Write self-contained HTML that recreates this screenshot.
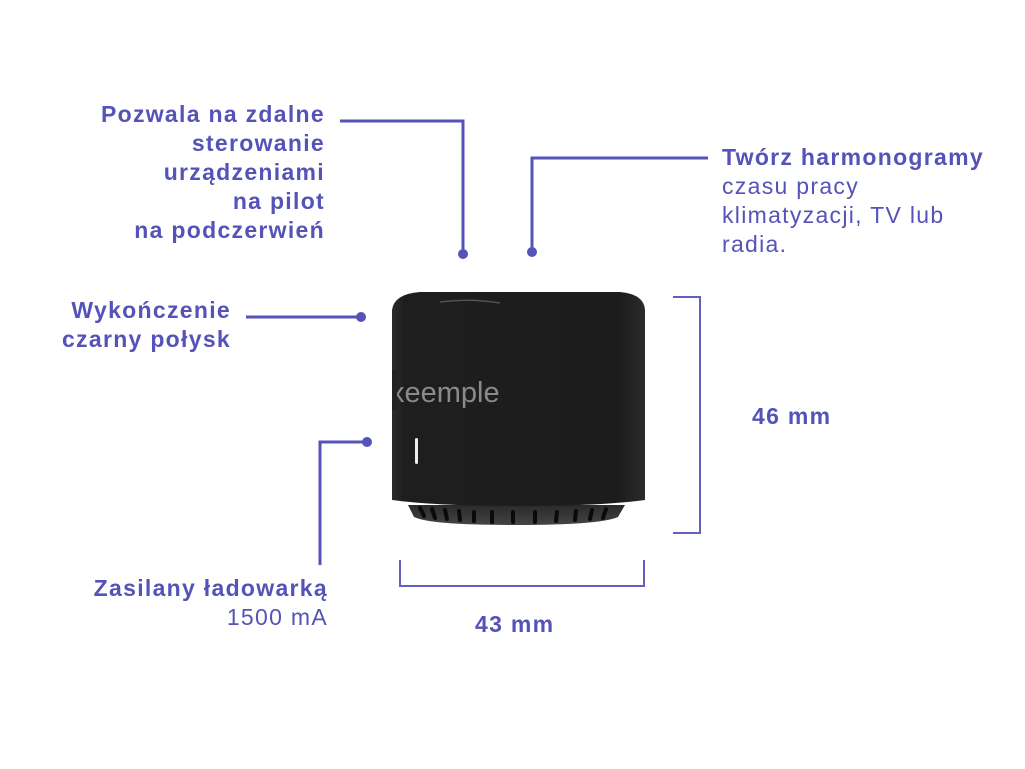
<!DOCTYPE html>
<html><head><meta charset="utf-8"><style>
html,body{margin:0;padding:0;background:#fff;}
body{width:1025px;height:769px;position:relative;overflow:hidden;font-family:"Liberation Sans",sans-serif;color:#5552b8;}
.t{position:absolute;font-size:23px;line-height:29px;white-space:nowrap;letter-spacing:1.3px}
.b{font-weight:bold}
.r{text-align:right}
.n{font-weight:normal}
</style></head><body>
<svg width="1025" height="769" style="position:absolute;left:0;top:0">
<defs>
<linearGradient id="body" x1="0" x2="1" y1="0" y2="0">
<stop offset="0" stop-color="#2a2a2a"/><stop offset="0.05" stop-color="#1e1e1e"/><stop offset="0.9" stop-color="#1c1c1c"/><stop offset="1" stop-color="#2c2c2c"/>
</linearGradient>
<linearGradient id="base" x1="0" x2="0" y1="0" y2="1">
<stop offset="0" stop-color="#2a2a2a"/><stop offset="1" stop-color="#444"/>
</linearGradient>
</defs>
<g stroke="#5552b8" stroke-width="3" fill="none">
<polyline points="340,121 463,121 463,253"/>
<polyline points="708,158 532,158 532,252"/>
<line x1="246" y1="317" x2="361" y2="317"/>
<polyline points="367,442 320,442 320,565"/>
</g>
<g fill="#5552b8">
<circle cx="463" cy="254" r="5"/><circle cx="532" cy="252" r="5"/>
<circle cx="361" cy="317" r="5"/><circle cx="367" cy="442" r="5"/>
</g>
<g stroke="#6360c0" stroke-width="2" fill="none">
<polyline points="673,297 700,297 700,533 673,533"/>
<polyline points="400,560 400,586 644,586 644,560"/>
</g>
<path d="M414,517 L408,505 L625,505 L618,517 Q600,525 515,525 Q430,525 414,517 Z" fill="url(#base)"/>
<g stroke="#0a0a0a" stroke-width="4" stroke-linecap="round">
<line x1="420" y1="508" x2="424" y2="516"/><line x1="432" y1="509" x2="435" y2="518"/><line x1="445" y1="510" x2="447" y2="519"/>
<line x1="459" y1="511" x2="460" y2="520"/><line x1="474" y1="512" x2="474" y2="521"/><line x1="492" y1="512" x2="492" y2="522"/>
<line x1="513" y1="512" x2="513" y2="522"/><line x1="535" y1="512" x2="535" y2="522"/><line x1="557" y1="512" x2="556" y2="521"/>
<line x1="576" y1="511" x2="575" y2="520"/><line x1="592" y1="510" x2="590" y2="519"/><line x1="606" y1="509" x2="603" y2="518"/>
</g>
<path d="M392,310 Q394,294 420,292 L620,292 Q644,294 645,310 L645,500 Q600,506 518,506 Q436,506 392,500 Z" fill="url(#body)"/>
<path d="M440,302 Q470,298 500,303" stroke="#777" stroke-width="1.5" fill="none" opacity="0.6"/>
<text x="390" y="402" font-family="Liberation Sans" font-size="29" fill="#8a8a8a">xeemple</text>
<rect x="388" y="370" width="8" height="40" fill="#fff"/>
<rect x="392" y="370" width="5" height="40" fill="#222"/>
<rect x="415" y="438" width="3" height="26" rx="1.5" fill="#eee"/>
</svg>
<div class="t b r" style="right:700px;top:100px">Pozwala na zdalne<br>sterowanie<br>urządzeniami<br>na pilot<br>na podczerwień</div>
<div class="t b" style="left:722px;top:143px">Twórz harmonogramy<br><span class="n">czasu pracy<br>klimatyzacji, TV lub<br>radia.</span></div>
<div class="t b r" style="right:794px;top:296px">Wykończenie<br>czarny połysk</div>
<div class="t b r" style="right:697px;top:574px">Zasilany ładowarką<br><span class="n">1500 mA</span></div>
<div class="t b" style="left:752px;top:402px">46 mm</div>
<div class="t b" style="left:475px;top:610px">43 mm</div>
</body></html>
